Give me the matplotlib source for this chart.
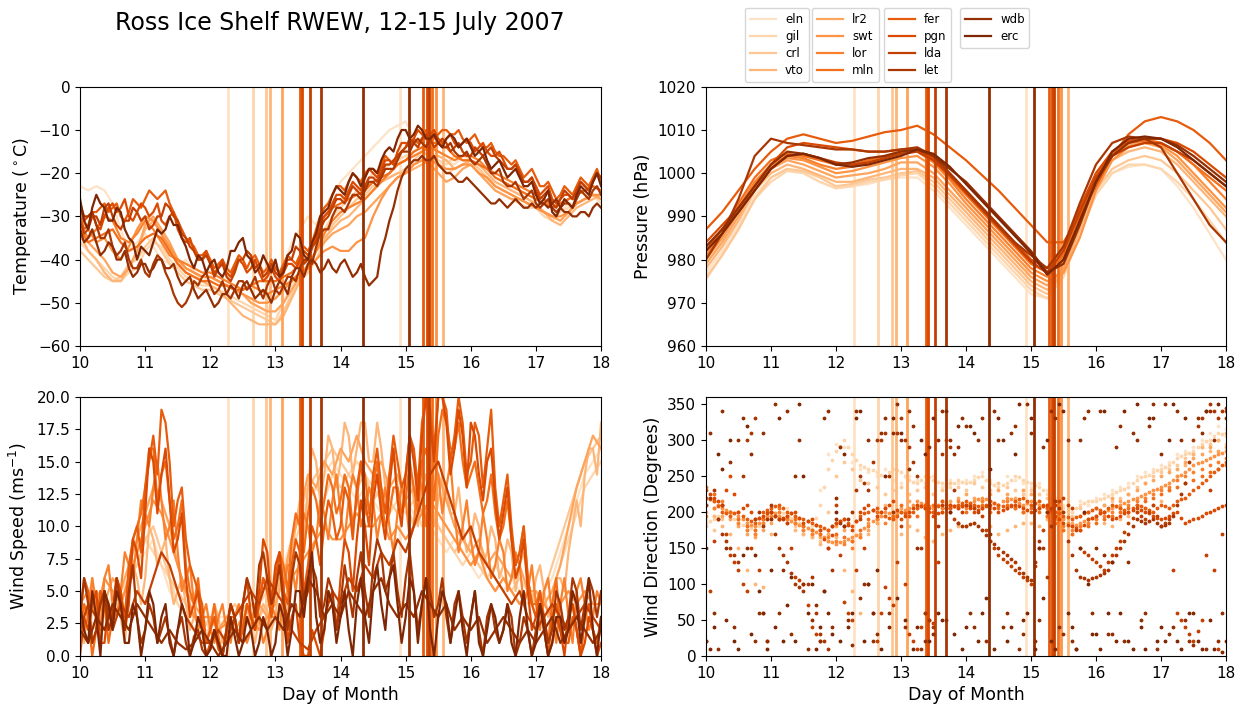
import numpy as np
import matplotlib
matplotlib.use('Agg')
import matplotlib.pyplot as plt

stations = ['eln', 'gil', 'crl', 'vto', 'lr2', 'swt', 'lor', 'mln',
            'fer', 'pgn', 'lda', 'let', 'wdb', 'erc']

# 3-hourly samples (temperature, wind) and 6-hourly samples (pressure), day of month
days = np.linspace(10, 18, 65)
days_p = np.linspace(10, 18, 33)

# times of the vertical markers for each station
marks_eln = [12.27, 14.92]
marks_gil = [12.65]
marks_crl = [12.86]
marks_vto = [12.92, 15.57]
marks_lr2 = [13.10]
marks_swt = [15.46]
marks_lor = []
marks_mln = [15.41]
marks_fer = [13.38, 15.27]
marks_pgn = [13.41, 15.32]
marks_lda = [13.53, 15.36]
marks_let = [13.70]
marks_wdb = [14.35, 15.05]
marks_erc = []

# ---- temperature (deg C) ----
temp_eln = [-23, -24, -23, -24, -27, -33, -38, -36,
            -34, -37, -40, -41, -42, -40, -43, -45,
            -44, -45, -46, -47, -48, -50, -51, -52,
            -48, -42, -36, -33, -30, -32, -28, -25,
            -22, -20, -18, -16, -14, -12, -10, -9,
            -8, -12, -15, -16, -18, -17, -18, -16,
            -17, -19, -21, -22, -23, -24, -25, -26,
            -28, -29, -30, -29, -27, -27, -26, -25, -26]
temp_gil = [-36, -38, -40, -42, -44, -45, -43, -42,
            -38, -36, -37, -40, -42, -44, -45, -46,
            -46, -47, -48, -49, -50, -51, -52, -53,
            -54, -50, -46, -44, -42, -38, -33, -30,
            -28, -26, -24, -22, -20, -19, -18, -17,
            -16, -15, -14, -15, -17, -18, -16, -17,
            -18, -20, -22, -24, -25, -26, -27, -28,
            -28, -30, -31, -29, -28, -27, -26, -25, -27]
temp_crl = [-38, -40, -42, -44, -45, -44, -41, -40,
            -37, -35, -38, -41, -43, -45, -46, -47,
            -47, -48, -49, -50, -51, -52, -53, -54,
            -55, -52, -48, -45, -43, -40, -36, -32,
            -30, -28, -26, -25, -23, -22, -21, -20,
            -19, -17, -15, -16, -18, -20, -19, -18,
            -17, -19, -21, -23, -24, -25, -26, -27,
            -28, -29, -30, -31, -29, -27, -26, -25, -26]
temp_vto = [-34, -38, -40, -43, -45, -45, -42, -38,
            -33, -31, -34, -38, -41, -43, -44, -45,
            -46, -47, -49, -51, -53, -54, -55, -55,
            -55, -53, -49, -45, -42, -38, -35, -33,
            -31, -30, -28, -26, -24, -22, -21, -20,
            -20, -19, -18, -17, -16, -17, -19, -18,
            -17, -18, -20, -22, -23, -24, -25, -26,
            -27, -29, -31, -32, -30, -28, -27, -26, -25]
temp_lr2 = [-35, -36, -38, -40, -43, -44, -42, -38,
            -32, -30, -33, -36, -40, -42, -43, -44,
            -44, -45, -46, -47, -48, -50, -51, -52,
            -52, -50, -47, -44, -41, -38, -36, -34,
            -33, -32, -30, -29, -27, -25, -23, -21,
            -20, -18, -17, -18, -20, -22, -21, -19,
            -18, -20, -22, -24, -25, -26, -26, -27,
            -28, -29, -30, -31, -29, -27, -26, -25, -26]
temp_swt = [-30, -33, -36, -35, -38, -40, -37, -33,
            -30, -31, -34, -37, -40, -42, -43, -44,
            -44, -45, -46, -47, -48, -49, -50, -50,
            -49, -47, -45, -43, -42, -40, -38, -37,
            -38, -38, -36, -35, -30, -26, -23, -21,
            -20, -18, -17, -17, -18, -19, -19, -18,
            -18, -20, -21, -23, -24, -25, -26, -27,
            -28, -29, -30, -30, -29, -27, -26, -25, -25]
temp_lor = [-32, -35, -33, -30, -31, -35, -36, -34,
            -31, -33, -36, -39, -40, -41, -42, -43,
            -43, -44, -45, -46, -47, -46, -47, -48,
            -47, -46, -45, -43, -42, -38, -34, -31,
            -29, -28, -27, -26, -24, -22, -20, -18,
            -17, -16, -15, -14, -15, -16, -17, -16,
            -16, -17, -19, -20, -21, -22, -23, -24,
            -25, -26, -28, -27, -26, -25, -24, -23, -24]
temp_mln = [-33, -36, -35, -34, -33, -36, -38, -37,
            -35, -34, -35, -38, -41, -43, -44, -45,
            -45, -46, -46, -47, -47, -46, -45, -45,
            -45, -44, -43, -41, -40, -35, -30, -28,
            -27, -26, -25, -24, -22, -21, -20, -18,
            -17, -15, -14, -13, -13, -14, -16, -17,
            -17, -18, -19, -21, -22, -23, -24, -25,
            -26, -27, -28, -27, -26, -25, -24, -23, -24]
temp_fer = [-30, -32, -29, -27, -28, -30, -29, -27,
            -26, -25, -25, -27, -31, -35, -37, -39,
            -40, -41, -42, -41, -40, -40, -41, -42,
            -42, -41, -40, -39, -38, -33, -28, -25,
            -23, -22, -21, -20, -19, -18, -17, -16,
            -14, -12, -12, -11, -11, -10, -11, -12,
            -12, -13, -14, -15, -16, -18, -19, -20,
            -21, -23, -24, -25, -24, -23, -22, -21, -22]
temp_pgn = [-28, -30, -32, -30, -27, -28, -30, -29,
            -28, -29, -31, -30, -33, -36, -38, -40,
            -41, -42, -43, -42, -41, -42, -43, -44,
            -44, -43, -41, -40, -39, -35, -30, -27,
            -25, -24, -23, -21, -20, -19, -17, -15,
            -13, -12, -11, -11, -12, -12, -13, -13,
            -13, -14, -15, -16, -17, -19, -20, -22,
            -23, -24, -26, -26, -25, -24, -23, -22, -21]
temp_lda = [-31, -33, -30, -28, -30, -33, -31, -29,
            -30, -32, -30, -28, -31, -35, -38, -40,
            -41, -42, -44, -43, -40, -39, -41, -43,
            -43, -42, -40, -38, -40, -36, -31, -28,
            -26, -25, -24, -23, -21, -20, -18, -16,
            -14, -13, -12, -12, -13, -13, -14, -15,
            -16, -15, -15, -16, -18, -19, -20, -22,
            -24, -25, -27, -26, -25, -24, -23, -22, -21]
temp_let = [-27, -30, -32, -35, -37, -38, -40, -42,
            -43, -41, -40, -45, -50, -50, -45, -44,
            -46, -47, -48, -47, -45, -46, -47, -46,
            -47, -46, -44, -42, -40, -37, -33, -30,
            -28, -27, -25, -24, -22, -21, -19, -17,
            -15, -13, -13, -12, -13, -14, -15, -16,
            -17, -17, -18, -20, -22, -23, -24, -25,
            -27, -27, -28, -28, -27, -26, -25, -24, -25]
temp_wdb = [-33, -35, -36, -38, -37, -40, -42, -43,
            -41, -42, -40, -42, -44, -45, -47, -48,
            -49, -50, -48, -47, -46, -47, -48, -48,
            -47, -46, -44, -42, -41, -41, -42, -42,
            -41, -42, -43, -44, -45, -38, -31, -24,
            -19, -17, -16, -17, -18, -20, -21, -22,
            -22, -24, -26, -27, -27, -27, -27, -28,
            -28, -27, -27, -28, -29, -30, -29, -28, -28]
temp_erc = [-26, -33, -25, -28, -31, -29, -35, -40,
            -38, -36, -34, -30, -32, -37, -42, -40,
            -41, -43, -42, -38, -35, -40, -42, -41,
            -40, -43, -38, -35, -40, -34, -29, -25,
            -24, -22, -21, -21, -19, -17, -14, -12,
            -10, -11, -10, -12, -13, -12, -12, -13,
            -14, -15, -17, -18, -19, -20, -21, -23,
            -25, -26, -29, -28, -27, -25, -24, -22, -23]

# extra temperature readings half-way between the 3-hourly samples
temp_fer_mid = [-33, -29, -28, -29, -27, -31, -26, -28,
                -24, -26, -24, -29, -33, -36, -39, -38,
                -42, -40, -43, -39, -42, -39, -43, -40,
                -43, -39, -41, -37, -36, -30, -27, -23,
                -24, -20, -22, -19, -20, -16, -18, -15,
                -13, -13, -10, -12, -10, -11, -10, -13,
                -11, -14, -13, -16, -17, -17, -21, -19,
                -23, -22, -26, -23, -25, -21, -23, -19]
temp_pgn_mid = [-31, -29, -33, -28, -29, -26, -31, -27,
                -30, -27, -32, -29, -35, -35, -40, -38,
                -43, -40, -44, -40, -43, -40, -45, -42,
                -45, -41, -42, -38, -37, -31, -29, -25,
                -26, -22, -24, -19, -21, -17, -18, -13,
                -14, -10, -12, -10, -13, -11, -14, -12,
                -15, -13, -16, -15, -19, -18, -22, -21,
                -25, -23, -27, -25, -26, -22, -24, -20]
temp_lda_mid = [-34, -30, -32, -27, -32, -31, -28, -31,
                -33, -30, -27, -30, -34, -37, -40, -39,
                -44, -41, -45, -40, -38, -42, -44, -41,
                -44, -40, -37, -41, -37, -33, -30, -26,
                -27, -23, -25, -21, -22, -18, -17, -15,
                -12, -14, -11, -14, -12, -15, -13, -16,
                -14, -16, -14, -17, -19, -18, -22, -21,
                -26, -24, -28, -24, -26, -22, -24, -20]
temp_let_mid = [-30, -29, -35, -33, -39, -36, -42, -40,
                -44, -39, -43, -48, -51, -48, -46, -43,
                -48, -45, -49, -45, -47, -44, -49, -44,
                -48, -44, -45, -40, -41, -34, -33, -28,
                -29, -25, -26, -22, -23, -19, -19, -15,
                -15, -12, -14, -11, -14, -13, -16, -15,
                -18, -16, -20, -19, -23, -22, -26, -24,
                -28, -26, -29, -27, -28, -24, -26, -23]
temp_wdb_mid = [-36, -33, -39, -36, -40, -38, -44, -41,
                -43, -40, -42, -41, -46, -44, -49, -47,
                -51, -48, -46, -49, -45, -49, -47, -50,
                -45, -48, -42, -44, -40, -43, -40, -43,
                -40, -44, -41, -46, -44, -35, -28, -21,
                -18, -17, -17, -16, -19, -20, -22, -21,
                -23, -25, -27, -26, -28, -26, -28, -27,
                -27, -28, -26, -29, -30, -29, -30, -27]
temp_erc_mid = [-31, -28, -27, -31, -28, -33, -36, -37,
                -39, -33, -33, -32, -35, -40, -39, -43,
                -40, -44, -38, -36, -39, -43, -39, -43,
                -44, -39, -34, -39, -36, -30, -28, -23,
                -25, -20, -23, -19, -20, -15, -15, -10,
                -12, -9, -12, -11, -14, -11, -14, -12,
                -16, -14, -19, -17, -21, -19, -23, -22,
                -27, -24, -30, -26, -28, -23, -25, -20]

# ---- pressure (hPa) ----
pres_eln = [977, 982, 988, 995, 999, 1001, 1000, 998, 996.5, 997, 997.5, 998.5, 999,
            999, 996, 992, 988, 984, 980, 976, 972, 971, 976, 986, 995, 1000, 1001.5,
            1002, 1001, 997, 992, 986, 980]
pres_gil = [976, 981, 987, 994, 998, 1000.5, 1000, 998, 996.5, 997, 998, 998.5, 999.5,
            1000, 997, 993, 989, 985, 981, 977, 973, 971, 976, 986, 995, 1000, 1002,
            1002, 1001, 998, 994, 989, 984]
pres_crl = [975.5, 981, 987, 994, 999, 1001, 1000.5, 999, 997, 997.5, 998.5, 999, 1000,
            1000.5, 998, 994, 990, 986, 982, 978, 974, 972, 977, 987, 996, 1001, 1003,
            1004, 1003, 1000, 996, 992, 987]
pres_vto = [978, 983, 989, 996, 1000, 1002, 1001, 999.5, 998, 998, 999, 1000, 1001,
            1001, 999, 995, 991, 987, 983, 979, 975, 973, 977, 987, 997, 1003, 1005,
            1006, 1005, 1002, 998, 994, 990]
pres_lr2 = [979, 984, 990, 997, 1001, 1003, 1002, 1000.5, 999, 999.5, 1000, 1001, 1002.5,
            1002.5, 1000, 996, 992, 988, 984, 980, 976, 974, 978, 988, 998, 1004, 1006.5,
            1007, 1006, 1003, 999, 995, 991]
pres_swt = [980, 985, 991, 997.5, 1001.5, 1003.5, 1003, 1001.5, 1000, 1000.5, 1001.5, 1002.5, 1003.5,
            1004, 1001.5, 997.5, 993, 989, 985, 981, 977, 975, 977, 985, 996, 1003, 1006,
            1007, 1006.5, 1004, 1000, 996, 992]
pres_lor = [981, 986, 992, 998, 1002, 1004, 1003.5, 1002, 1001, 1001.5, 1002.5, 1003.5, 1004.5,
            1005, 1002.5, 998.5, 994, 990, 986, 982, 978, 976, 980, 990, 999, 1005, 1007.5,
            1008, 1007, 1005, 1002, 998, 994]
pres_mln = [982, 987, 993, 999, 1003, 1004.5, 1004, 1003, 1002, 1002, 1003, 1004, 1005,
            1005.5, 1003, 999, 995, 991, 987, 983, 979, 977, 981, 991, 1000, 1005, 1007,
            1007.5, 1007, 1005, 1002, 999, 996]
pres_fer = [987, 991, 996, 1001, 1005, 1008, 1009, 1008, 1007, 1007.5, 1008.5, 1009.5, 1010,
            1011, 1009, 1006, 1003, 999.5, 996, 992, 988, 984, 984, 990, 997, 1004, 1009,
            1012, 1013, 1012, 1010, 1007, 1003]
pres_pgn = [984, 988, 992, 997, 1002, 1006, 1007, 1006.5, 1006, 1005.5, 1005, 1005, 1005.5,
            1005.5, 1003.5, 1000, 996, 992, 988, 984, 980, 978, 983, 992, 1000, 1005, 1007.5,
            1008, 1008, 1007, 1005, 1002, 999]
pres_lda = [983, 987, 991, 996, 1001, 1004, 1004.5, 1003.5, 1002.5, 1002, 1002.5, 1003.5, 1004.5,
            1005, 1003, 999.5, 995.5, 991.5, 987.5, 983.5, 979.5, 977, 982, 991, 999, 1004, 1006,
            1007, 1007, 1005, 1003, 1000, 997]
pres_let = [980, 986, 994, 1004, 1008, 1007, 1006.5, 1006, 1005.5, 1005.5, 1005, 1005, 1005.5,
            1006, 1004, 1000, 996, 992, 988, 984, 981, 978, 983, 993, 1002, 1007, 1008.5,
            1008, 1006, 1000, 994, 988, 984]
pres_wdb = [983, 987, 992, 997, 1002, 1005, 1004.5, 1003.5, 1002, 1002.5, 1003.5, 1004, 1005,
            1005.5, 1004, 1001, 998, 994, 990, 986, 982, 977, 979, 988, 998, 1004, 1007,
            1008, 1008, 1006.5, 1004, 1001, 998]
pres_erc = [982, 986, 991, 996, 1001, 1004, 1004.5, 1003.5, 1002, 1001.5, 1002, 1003, 1004,
            1005.5, 1004.5, 1001.5, 997.5, 993.5, 989.5, 985.5, 981.5, 976.5, 980, 989, 998, 1005, 1008,
            1008.5, 1008, 1006, 1003, 1000, 997]

# ---- wind speed (m/s) ----
wspd_eln = [3, 2, 4, 3, 5, 4, 6, 7, 8, 9, 7, 5, 4, 3, 3, 2,
            2, 3, 3, 2, 3, 4, 3, 4, 5, 7, 9, 11, 12, 13, 14, 15,
            14, 13, 12, 13, 12, 11, 12, 13, 12, 11, 12, 10, 9, 8, 9, 8,
            7, 6, 7, 6, 5, 6, 5, 4, 4, 5, 6, 8, 10, 12, 14, 15, 16]
wspd_gil = [2, 3, 2, 4, 3, 5, 6, 8, 9, 8, 7, 6, 4, 3, 2, 3,
            2, 2, 3, 3, 4, 3, 4, 5, 4, 6, 8, 10, 12, 13, 12, 14,
            13, 14, 15, 14, 13, 12, 11, 12, 11, 12, 10, 11, 10, 9, 8, 7,
            8, 7, 6, 7, 6, 5, 6, 5, 5, 4, 5, 7, 9, 11, 13, 14, 15]
wspd_crl = [4, 3, 5, 4, 3, 4, 6, 7, 9, 10, 8, 6, 5, 4, 3, 2,
            3, 2, 3, 4, 3, 4, 3, 4, 5, 6, 9, 11, 13, 14, 15, 16,
            15, 14, 13, 14, 12, 13, 12, 11, 12, 10, 11, 12, 10, 9, 8, 9,
            8, 7, 6, 5, 6, 5, 4, 5, 4, 5, 7, 9, 11, 13, 15, 16, 17]
wspd_vto = [3, 4, 2, 5, 4, 3, 5, 6, 6, 9, 8, 6, 5, 4, 3, 3,
            2.5, 3, 2, 3, 2.5, 2, 3, 3.5, 3, 5, 8, 12, 13, 15, 14, 16,
            15, 17, 16, 18, 15, 16, 14, 13, 14, 12, 13, 11, 12, 13, 11, 10,
            9, 10, 8, 9, 7, 8, 7, 6, 6, 5, 4, 6, 8, 12, 14, 16, 18]
wspd_lr2 = [4, 3, 5, 4, 6, 5, 7, 9, 11, 13, 12, 10, 7, 5, 4, 3,
            3, 2, 3, 2, 3, 3, 4, 3, 4, 6, 9, 11, 14, 13, 15, 14,
            16, 15, 17, 15, 14, 15, 13, 14, 12, 13, 11, 12, 14, 12, 10, 9,
            8, 9, 7, 8, 7, 6, 7, 5, 5, 4, 5, 7, 10, 13, 15, 17, 16]
wspd_swt = [4, 5, 3, 6, 5, 4, 6, 8, 10, 12, 11, 9, 7, 5, 3, 3,
            3, 2, 2.5, 2, 2, 3, 2, 3, 3, 4, 6, 7, 8, 9, 10, 9,
            9, 10, 11, 10, 10, 11, 9, 10, 9, 10, 11, 12, 11, 10, 9, 8,
            7, 8, 6, 5, 6, 5, 4, 5, 3, 4, 3, 4, 5, 4, 5, 4, 4]
wspd_lor = [5, 3, 4, 6, 4, 5, 7, 9, 11, 13, 12, 10, 8, 6, 4, 3,
            2, 3, 2, 3, 2, 2, 3, 2, 3, 5, 7, 8, 10, 9, 11, 12,
            11, 12, 13, 11, 12, 11, 10, 11, 12, 10, 13, 12, 14, 13, 11, 10,
            9, 8, 9, 7, 8, 6, 7, 5, 4, 5, 3, 4, 3, 5, 4, 3, 4]
wspd_mln = [2, 3, 2, 4, 3, 5, 6, 10, 13, 16, 14, 12, 10, 7, 4, 3,
            2, 1.5, 2, 3, 2, 3, 4, 5, 5, 7, 9, 10, 11, 12, 12, 13,
            12, 13, 12, 14, 13, 12, 11, 13, 12, 13, 15, 14, 17, 18, 16, 15,
            14, 13, 12, 11, 10, 9, 8, 6, 4, 3, 4, 2, 3, 2, 3, 2, 2]
wspd_fer = [3, 5, 2, 4, 3, 4, 7, 10, 13, 17, 19, 15, 12, 9, 6, 4,
            2, 1, 2, 3, 2, 3, 4, 5, 6, 5, 7, 8, 7, 9, 10, 11,
            10, 12, 13, 12, 14, 13, 14, 15, 14, 16, 18, 19, 20, 19, 17, 18,
            15, 17, 16, 13, 12, 10, 8, 6, 3, 2, 3, 2, 1, 2, 3, 2, 3]
wspd_pgn = [0, 2, 5, 1, 3, 5, 4, 8, 11, 15, 14, 12, 9, 6, 4, 2,
            1, 0.5, 2, 3, 4, 3, 5, 8, 7, 5, 3, 1, 0, 1, 2, 4,
            6, 8, 9, 10, 12, 11, 13, 12, 14, 15, 17, 18, 20, 18, 16, 17,
            18, 14, 15, 12, 11, 9, 7, 5, 3, 2, 1, 2, 3, 2, 1, 2, 1]
wspd_lda = [2, 4, 3, 5, 2, 4, 3, 5, 4, 6, 8, 7, 5, 3, 2, 1,
            1, 2, 1, 3, 4, 5, 4, 6, 5, 4, 2, 1, 0.5, 2, 3, 5,
            4, 6, 5, 7, 6, 8, 7, 9, 8, 10, 12, 14, 15, 13, 11, 9,
            10, 8, 7, 6, 5, 4, 5, 3, 2, 3, 4, 3, 2, 3, 4, 3, 2]
wspd_let = [3, 4, 2, 5, 3, 4, 5, 3, 2, 3, 2, 1.5, 2, 1, 1.5, 0.5,
            0.5, 1, 2, 3, 4, 5, 7, 6, 5, 4, 6, 7, 5, 6, 4, 5,
            4, 5, 6, 5, 7, 8, 6, 5, 6, 5, 4, 5, 4, 3, 4, 3,
            3, 2, 3, 2, 2, 3, 1, 2, 2, 3, 2, 4, 3, 5, 4, 5, 5]
wspd_wdb = [2, 1, 3, 2, 4, 3, 2, 4, 3, 2, 1, 2, 1, 0.5, 1, 2,
            1, 0, 1, 2, 1, 2, 3, 2, 3, 2, 4, 3, 6, 5, 3, 4,
            3, 5, 4, 3, 5, 6, 4, 3, 4, 3, 5, 4, 3, 4, 2, 3,
            2, 3, 1, 2, 3, 2, 1, 2, 1, 2, 3, 1, 2, 3, 2, 1, 2]
wspd_erc = [4, 1, 3, 5, 2, 4, 1, 3, 2, 4, 3, 1, 2, 3, 1, 2,
            0.5, 1, 0, 1.5, 1, 2, 1, 2, 1, 3, 2, 5, 6, 3, 2, 4,
            3, 2, 4, 3, 5, 4, 6, 4, 3, 5, 4, 2, 3, 4, 3, 2,
            3, 1, 2, 3, 2, 1, 3, 2, 1, 2, 1, 3, 2, 4, 3, 2, 3]

# extra readings half-way between the 3-hourly samples (gustier stations)
wspd_vto_mid = [1, 6, 4, 3, 6, 1, 7, 4, 10, 7, 9, 4, 6, 2, 5, 1,
                4, 1, 4, 1, 4, 1, 4, 2, 6, 3, 10, 9, 16, 12, 17, 13,
                18, 14, 18, 15, 18, 13, 16, 11, 15, 10, 14, 10, 14, 11, 13, 8,
                11, 7, 10, 6, 9, 5, 8, 4, 7, 3, 6, 5, 10, 10, 16, 14]
wspd_lor_mid = [2, 6, 2, 7, 3, 8, 6, 12, 10, 15, 9, 12, 5, 7, 2, 4,
                1, 4, 1, 4, 1, 4, 1, 4, 2, 7, 5, 11, 8, 12, 9, 14,
                9, 14, 10, 13, 9, 13, 8, 13, 9, 14, 10, 15, 11, 15, 8, 12,
                7, 11, 6, 9, 5, 8, 4, 7, 2, 6, 1, 6, 1, 6, 2, 5]
wspd_mln_mid = [4, 0, 5, 1, 6, 3, 9, 11, 16, 12, 15, 9, 12, 5, 6, 1,
                4, 0, 3, 1, 4, 2, 6, 3, 8, 5, 11, 8, 13, 10, 14, 11,
                14, 10, 15, 11, 15, 10, 13, 11, 15, 11, 16, 12, 19, 16, 18, 13,
                15, 11, 14, 9, 12, 7, 10, 4, 5, 1, 6, 1, 4, 0, 4, 1]
wspd_fer_mid = [6, 1, 5, 2, 6, 3, 9, 8, 15, 14, 18, 10, 13, 7, 5, 1,
                3, 0, 4, 1, 4, 2, 6, 3, 8, 4, 9, 5, 10, 7, 12, 9,
                13, 9, 15, 10, 16, 11, 17, 13, 17, 13, 20, 16, 20, 15, 20, 14,
                18, 13, 19, 10, 14, 7, 10, 4, 5, 0, 4, 1, 3, 0, 4, 1]
wspd_pgn_mid = [3, 4, 1, 4, 6, 2, 9, 6, 16, 11, 16, 8, 11, 3, 5, 0,
                2, 0, 4, 1, 6, 2, 9, 4, 8, 1, 4, 0, 2, 0, 5, 2,
                9, 5, 12, 7, 14, 9, 16, 10, 17, 12, 20, 15, 20, 14, 19, 13,
                17, 12, 16, 9, 13, 6, 9, 2, 4, 0, 3, 0, 4, 0, 3, 0]
wspd_let_mid = [6, 1, 4, 2, 6, 2, 7, 1, 4, 1, 3, 0, 3, 0, 2, 0,
                2, 0, 4, 1, 6, 3, 8, 4, 7, 2, 8, 4, 7, 3, 6, 2,
                7, 3, 8, 3, 9, 5, 8, 3, 8, 2, 6, 3, 6, 1, 5, 1,
                5, 0, 4, 1, 4, 0, 3, 0, 4, 1, 5, 2, 6, 2, 6, 3]
wspd_erc_mid = [2, 5, 0, 4, 5, 1, 4, 0, 5, 1, 4, 0, 4, 0, 3, 0,
                2, 0, 3, 0, 3, 0, 3, 0, 4, 0, 5, 3, 8, 1, 5, 1,
                5, 0, 6, 1, 7, 2, 7, 1, 6, 1, 6, 0, 5, 1, 5, 0,
                5, 0, 4, 1, 4, 0, 5, 0, 4, 0, 3, 1, 5, 1, 6, 0]

# ---- wind direction (degrees) ----
wdir_eln = [190, 195, 205, 200, 190, 185, 180, 195, 200, 210, 205, 195, 185, 180, 230, 280,
            295, 290, 270, 260, 255, 250, 260, 245, 240, 250, 245, 240, 250, 235, 245, 240,
            245, 250, 255, 245, 240, 250, 245, 240, 235, 240, 230, 220, 210, 205, 215, 210,
            220, 225, 230, 235, 240, 250, 255, 260, 265, 270, 280, 285, 290, 300, 310, 320, 315]
wdir_gil = [185, 190, 200, 195, 185, 180, 175, 185, 195, 200, 195, 190, 180, 175, 210, 260,
            285, 300, 280, 265, 260, 255, 250, 260, 255, 245, 240, 250, 245, 240, 235, 245,
            240, 245, 250, 240, 235, 240, 250, 245, 240, 235, 225, 215, 205, 200, 210, 215,
            215, 220, 225, 230, 235, 245, 250, 255, 260, 265, 275, 280, 285, 295, 300, 310, 305]
wdir_crl = [180, 175, 190, 200, 190, 175, 170, 180, 190, 195, 190, 180, 170, 165, 160, 200,
            250, 270, 260, 245, 240, 235, 225, 230, 235, 225, 230, 235, 225, 230, 240, 235,
            230, 240, 235, 230, 240, 235, 230, 225, 230, 225, 220, 210, 200, 195, 205, 200,
            205, 210, 215, 220, 225, 235, 240, 250, 255, 260, 265, 275, 280, 290, 295, 300, 295]
wdir_vto = [200, 195, 180, 170, 150, 120, 100, 95, 170, 190, 185, 175, 170, 165, 155, 160,
            165, 120, 90, 60, 170, 200, 210, 190, 170, 180, 175, 165, 160, 170, 175, 180,
            180, 185, 175, 180, 170, 175, 180, 185, 185, 180, 190, 185, 175, 170, 180, 185,
            190, 185, 180, 190, 195, 200, 205, 210, 215, 230, 250, 265, 280, 290, 285, 300, 310]
wdir_lr2 = [210, 205, 195, 190, 180, 170, 165, 175, 185, 190, 195, 185, 175, 170, 165, 170,
            180, 175, 160, 165, 175, 185, 195, 200, 205, 215, 210, 205, 200, 210, 215, 220,
            225, 220, 215, 225, 230, 225, 220, 230, 225, 215, 210, 200, 190, 185, 195, 200,
            205, 210, 220, 215, 225, 230, 240, 245, 250, 255, 260, 270, 275, 280, 290, 285, 290]
wdir_swt = [220, 215, 205, 200, 195, 185, 180, 190, 200, 195, 190, 185, 180, 175, 170, 160,
            155, 160, 165, 170, 185, 190, 200, 195, 200, 205, 215, 210, 205, 215, 210, 205,
            210, 215, 220, 215, 210, 220, 215, 210, 215, 210, 205, 195, 190, 180, 185, 190,
            195, 200, 205, 210, 215, 220, 225, 230, 235, 240, 250, 255, 265, 270, 275, 280, 285]
wdir_lor = [195, 205, 215, 200, 185, 175, 170, 185, 195, 200, 190, 185, 175, 170, 175, 165,
            160, 155, 150, 165, 180, 190, 185, 195, 200, 195, 205, 210, 200, 205, 210, 215,
            205, 210, 215, 205, 210, 215, 205, 200, 210, 205, 195, 190, 180, 175, 180, 185,
            190, 195, 200, 205, 210, 215, 220, 225, 230, 235, 245, 250, 255, 260, 265, 270, 275]
wdir_mln = [235, 225, 210, 200, 190, 180, 175, 190, 200, 205, 195, 190, 180, 175, 170, 175,
            170, 165, 160, 175, 190, 200, 205, 195, 210, 200, 195, 205, 210, 200, 205, 210,
            200, 205, 210, 200, 205, 210, 205, 200, 205, 200, 195, 185, 175, 170, 175, 180,
            185, 190, 195, 200, 205, 210, 215, 220, 225, 230, 235, 240, 245, 250, 255, 260, 265]
wdir_fer = [220, 215, 200, 195, 200, 190, 185, 200, 205, 210, 200, 195, 190, 185, 180, 175,
            185, 190, 180, 195, 200, 205, 195, 190, 200, 195, 205, 210, 200, 215, 205, 210,
            215, 210, 205, 215, 210, 205, 215, 220, 210, 215, 205, 200, 195, 190, 195, 200,
            205, 200, 210, 205, 200, 210, 205, 200, 210, 205, 215, 220, 230, 240, 250, 260, 270]
wdir_pgn = [230, 220, 210, 250, 200, 210, 190, 195, 200, 190, 195, 200, 185, 190, 175, 150,
            185, 190, 175, 200, 210, 195, 205, 215, 190, 200, 210, 205, 195, 200, 210, 205,
            210, 200, 205, 210, 200, 205, 210, 205, 200, 205, 210, 195, 185, 180, 175, 190,
            195, 200, 190, 195, 200, 205, 200, 195, 190, 195, 200, 185, 190, 195, 200, 205, 210]
wdir_lda = [20, 160, 210, 140, 120, 90, 190, 60, 200, 190, 185, 110, 100, 40, 20, 150,
            210, 75, 50, 190, 100, 20, 95, 70, 180, 30, 10, 60, 45, 210, 200, 185,
            210, 205, 195, 160, 140, 130, 120, 110, 100, 150, 200, 210, 220, 205, 150, 140,
            130, 120, 140, 160, 185, 200, 190, 210, 180, 190, 60, 40, 20, 50, 230, 10, 340]
wdir_let = [210, 230, 170, 150, 130, 300, 330, 180, 210, 150, 130, 100, 90, 110, 30, 10,
            190, 180, 200, 250, 230, 300, 310, 200, 330, 290, 250, 60, 40, 280, 290, 185,
            180, 185, 175, 160, 150, 140, 130, 115, 105, 160, 110, 215, 200, 140, 110, 105,
            110, 115, 130, 150, 170, 190, 185, 190, 180, 185, 210, 240, 300, 330, 350, 330, 345]
wdir_wdb = [20, 60, 340, 270, 300, 150, 20, 310, 190, 60, 340, 250, 100, 50, 20, 340,
            220, 180, 15, 80, 300, 30, 330, 310, 300, 340, 150, 20, 30, 340, 300, 290,
            320, 40, 330, 170, 300, 60, 320, 30, 310, 50, 200, 330, 30, 20, 300, 340,
            150, 140, 30, 320, 130, 300, 60, 350, 280, 30, 340, 50, 15, 310, 340, 20, 330]
wdir_erc = [150, 40, 260, 300, 10, 320, 140, 60, 120, 330, 70, 20, 250, 100, 40, 60,
            200, 280, 60, 340, 100, 120, 250, 330, 310, 260, 40, 280, 330, 50, 200, 320,
            40, 310, 60, 260, 330, 20, 280, 50, 330, 150, 300, 10, 340, 40, 150, 100,
            30, 340, 130, 60, 20, 350, 10, 330, 40, 300, 20, 330, 60, 10, 50, 350, 20]

wdir_gil_mid = [188, 195, 198, 190, 182, 178, 180, 190, 198, 198, 192, 185, 178, 192, 235, 272,
                292, 290, 272, 262, 258, 252, 255, 258, 250, 242, 245, 248, 242, 238, 240, 242,
                242, 248, 245, 238, 238, 245, 248, 242, 238, 230, 220, 210, 202, 205, 212, 215,
                218, 222, 228, 232, 240, 248, 252, 258, 262, 270, 278, 282, 290, 298, 305, 308]
wdir_swt_mid = [218, 210, 202, 198, 190, 182, 185, 195, 198, 192, 188, 182, 178, 172, 165, 158,
                158, 162, 168, 178, 188, 195, 198, 198, 202, 210, 212, 208, 210, 212, 208, 208,
                212, 218, 218, 212, 215, 218, 212, 212, 212, 208, 200, 192, 185, 182, 188, 192,
                198, 202, 208, 212, 218, 222, 228, 232, 238, 245, 252, 260, 268, 272, 278, 282]
wdir_fer_mid = [218, 208, 198, 198, 195, 188, 192, 203, 208, 205, 198, 192, 188, 182, 178, 180,
                188, 185, 188, 198, 203, 200, 192, 195, 198, 200, 208, 205, 208, 210, 208, 213,
                212, 208, 210, 212, 208, 210, 218, 215, 213, 210, 203, 198, 193, 193, 198, 203,
                203, 205, 208, 203, 205, 208, 203, 205, 208, 210, 218, 225, 235, 245, 255, 265]
wdir_pgn_mid = [225, 215, 230, 225, 205, 200, 192, 198, 195, 192, 198, 192, 188, 182, 162, 168,
                188, 182, 188, 205, 202, 200, 210, 202, 195, 205, 208, 200, 198, 205, 208, 208,
                205, 202, 208, 205, 202, 208, 208, 202, 202, 208, 202, 190, 182, 178, 182, 192,
                198, 195, 192, 198, 202, 202, 198, 192, 192, 198, 192, 188, 192, 198, 202, 208]
wdir_lda_mid = [90, 190, 170, 130, 100, 150, 120, 20, 195, 190, 150, 105, 70, 30, 90, 180,
                140, 60, 120, 150, 60, 60, 80, 130, 100, 20, 40, 50, 130, 205, 190, 200,
                208, 200, 175, 150, 135, 125, 115, 105, 125, 175, 205, 215, 210, 175, 145, 135,
                125, 130, 150, 172, 192, 195, 200, 195, 185, 120, 50, 30, 35, 140, 120, 170]
wdir_let_mid = [220, 190, 160, 140, 250, 310, 200, 190, 170, 140, 115, 95, 100, 60, 20, 120,
                185, 190, 230, 240, 270, 300, 250, 310, 300, 270, 150, 50, 180, 300, 230, 180,
                183, 180, 168, 155, 145, 135, 122, 110, 130, 150, 180, 205, 160, 120, 108, 108,
                112, 120, 140, 160, 180, 188, 188, 185, 182, 195, 225, 270, 320, 340, 340, 340]
wdir_wdb_mid = [310, 10, 150, 40, 330, 280, 60, 20, 350, 120, 30, 300, 10, 70, 330, 40,
                290, 50, 340, 100, 20, 310, 60, 350, 40, 320, 10, 290, 300, 50, 280, 330,
                60, 300, 20, 340, 40, 310, 10, 350, 20, 290, 340, 40, 300, 10, 330, 60,
                340, 30, 290, 20, 310, 50, 320, 10, 350, 40, 300, 20, 330, 10, 300, 60]
wdir_erc_mid = [10, 280, 50, 20, 140, 30, 90, 10, 40, 20, 110, 350, 60, 10, 90, 30,
                20, 40, 330, 20, 60, 10, 40, 80, 50, 10, 300, 20, 60, 340, 30, 10,
                320, 20, 80, 10, 300, 40, 350, 60, 10, 80, 20, 350, 60, 10, 200, 30,
                10, 60, 20, 340, 10, 40, 330, 20, 20, 350, 10, 60, 20, 340, 10, 5]

g = globals()


def series(prefix, st):
    """3-hourly series, merged with the in-between readings when a station has them."""
    main = np.asarray(g[prefix + st], dtype=float)
    mid = g.get(prefix + st + '_mid')
    if mid is None:
        return days, main
    t = np.empty(2 * len(main) - 1)
    v = np.empty_like(t)
    t[0::2] = days
    t[1::2] = (days[:-1] + days[1:]) / 2
    v[0::2] = main
    v[1::2] = mid
    return t, v


colors = plt.cm.Oranges(np.linspace(0.15, 1.0, len(stations)))

fig = plt.figure(figsize=(12.37, 7.06), dpi=100)
ax_t = fig.add_axes([0.0647, 0.510, 0.4212, 0.367])
ax_p = fig.add_axes([0.5707, 0.510, 0.4204, 0.367])
ax_s = fig.add_axes([0.0647, 0.071, 0.4212, 0.367])
ax_d = fig.add_axes([0.5707, 0.071, 0.4204, 0.367])

handles = []
for i, st in enumerate(stations):
    c = colors[i]
    tt, vt = series('temp_', st)
    h, = ax_t.plot(tt, vt, color=c, lw=1.6, label=st)
    handles.append(h)
    ax_p.plot(days_p, g['pres_' + st], color=c, lw=1.6)
    ts, vs = series('wspd_', st)
    ax_s.plot(ts, vs, color=c, lw=1.6)
    td, vd = series('wdir_', st)
    ax_d.plot(td, vd, '.', color=c, ms=3.5)
    for m in g['marks_' + st]:
        for ax in (ax_t, ax_p, ax_s, ax_d):
            ax.axvline(m, color=c, lw=2)

ax_t.set_ylim(-60, 0)
ax_t.set_ylabel(r'Temperature ($^\circ$C)', fontsize=12.5)
ax_p.set_ylim(960, 1020)
ax_p.set_ylabel('Pressure (hPa)', fontsize=12.5)
ax_s.set_ylim(0, 20)
ax_s.set_yticks(np.arange(0, 20.1, 2.5))
ax_s.set_ylabel(r'Wind Speed (ms$^{-1}$)', fontsize=12.5)
ax_d.set_ylim(0, 360)
ax_d.set_yticks(range(0, 360, 50))
ax_d.set_ylabel('Wind Direction (Degrees)', fontsize=12.5)

for ax in (ax_t, ax_p, ax_s, ax_d):
    ax.set_xlim(10, 18)
    ax.tick_params(labelsize=11)
for ax in (ax_s, ax_d):
    ax.set_xlabel('Day of Month', fontsize=12.5)

fig.text(0.275, 0.968, 'Ross Ice Shelf RWEW, 12-15 July 2007', fontsize=17,
         ha='center', va='center')

# four small legend boxes across the top
lx = [745, 812, 884, 960]
for k in range(4):
    fig.legend(handles=handles[4 * k:4 * k + 4], loc='upper left',
               bbox_to_anchor=(lx[k] / 1237, 1 - 8 / 706), fontsize=8.5,
               borderaxespad=0, handlelength=2.2, borderpad=0.4,
               labelspacing=0.35, handletextpad=0.8)

fig.savefig('out.png', dpi=100)
